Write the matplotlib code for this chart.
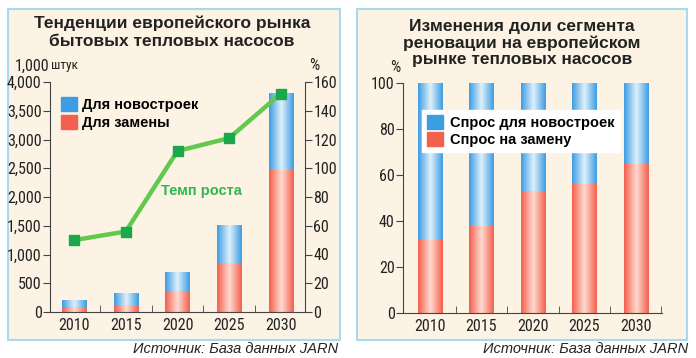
import matplotlib
matplotlib.use("Agg")
import matplotlib.pyplot as plt
import numpy as np
from matplotlib.colors import LinearSegmentedColormap
from matplotlib.patches import Patch
from matplotlib.ticker import FuncFormatter

years = ["2010", "2015", "2020", "2025", "2030"]

# left chart, 1,000 units
replace_units = [80, 125, 365, 850, 2470]
newbuild_units = [130, 200, 325, 670, 1340]
growth_rate = [50, 56, 112, 121, 152]

# right chart, %
replace_share = [32, 38, 53, 56, 65]
newbuild_share = [100 - v for v in replace_share]

BLUE = "#3d9de3"
BLUE_HI = "#dff1fb"
RED = "#f4604e"
RED_HI = "#fddcd0"
BG = "#fdf3e4"
FRAME = "#a6daef"
AXC = "#444444"

cm_blue = LinearSegmentedColormap.from_list("b", [BLUE, BLUE_HI, BLUE])
cm_red = LinearSegmentedColormap.from_list("r", [RED, RED_HI, RED])
grad = np.linspace(0, 1, 64).reshape(1, -1)

NARROW = ["Roboto Condensed", "Liberation Sans Narrow", "Asap Condensed",
          "Liberation Sans", "DejaVu Sans"]
SANS = ["Liberation Sans", "DejaVu Sans"]
plt.rcParams["font.family"] = SANS

W, H = 696, 358
fig = plt.figure(figsize=(W / 100, H / 100), dpi=100)
fig.patch.set_facecolor("white")


def px_axes(x0, y0, x1, y1):
    return fig.add_axes([x0 / W, 1 - y1 / H, (x1 - x0) / W, (y1 - y0) / H])


def shade(ax, bars, cmap):
    for b in bars:
        x, y = b.get_x(), b.get_y()
        w, h = b.get_width(), b.get_height()
        im = ax.imshow(grad, cmap=cmap, aspect="auto", extent=[x, x + w, y, y + h],
                       interpolation="bicubic", zorder=2)
        im.set_clip_path(b)


def style(ax):
    ax.set_facecolor("none")
    for s in ["top", "right"]:
        ax.spines[s].set_visible(False)
    for s in ["left", "bottom"]:
        ax.spines[s].set_color(AXC)
    ax.tick_params(axis="y", direction="out", length=5, color=AXC, pad=1,
                   labelsize=11.5, labelcolor="#222222")
    ax.tick_params(axis="x", which="major", length=0, pad=4, labelsize=11.5,
                   labelcolor="#222222")
    ax.tick_params(axis="x", which="minor", direction="in", length=5, color=AXC)
    for lab in ax.get_xticklabels() + ax.get_yticklabels():
        lab.set_family(NARROW)


# panel frames
for x0, x1 in [(8, 340), (357, 687)]:
    fig.patches.append(plt.Rectangle((x0 / W, 1 - 340 / H), (x1 - x0) / W, 331 / H,
                                     transform=fig.transFigure, facecolor=BG,
                                     edgecolor=FRAME, linewidth=1.5, zorder=-5))

x = np.arange(len(years))
bw = 0.47

# ---- left chart
ax = px_axes(50, 82, 305, 312)
b1 = ax.bar(x, replace_units, bw, color=RED, zorder=2)
b2 = ax.bar(x, newbuild_units, bw, bottom=replace_units, color=BLUE, zorder=2)
shade(ax, b1, cm_red)
shade(ax, b2, cm_blue)
ax.set_xlim(-0.465, 4.465)
ax.set_ylim(0, 4000)
ax.set_yticks(range(0, 4001, 500))
ax.yaxis.set_major_formatter(FuncFormatter(lambda v, p: f"{int(v):,}"))
ax.set_xticks(x)
ax.set_xticklabels(years)
ax.set_xticks([0.5, 1.5, 2.5, 3.5], minor=True)
style(ax)
ax.legend(handles=[Patch(color=BLUE, label="Для новостроек"),
                   Patch(color=RED, label="Для замены")],
          loc="upper left", bbox_to_anchor=(-0.01, 0.99), frameon=False,
          prop={"family": SANS, "weight": "bold", "size": 10.5},
          handlelength=1.1, handleheight=1.1, handletextpad=0.4, labelspacing=0.15)

ax2 = ax.twinx()
ax2.plot(x, growth_rate, color="#62c94f", linewidth=3.2, zorder=3)
ax2.plot(x, growth_rate, "s", color="#1aa84b", markersize=7, zorder=4)
ax2.set_ylim(0, 160)
ax2.set_yticks(range(0, 161, 20))
for s in ["top", "left", "bottom"]:
    ax2.spines[s].set_visible(False)
ax2.spines["right"].set_color(AXC)
ax2.tick_params(axis="y", direction="out", length=5, color=AXC, pad=1,
                labelsize=11.5, labelcolor="#222222")
for lab in ax2.get_yticklabels():
    lab.set_family(NARROW)
ax2.text(2.46, 84, "Темп роста", color="#2eb84c", fontsize=10.5, fontweight="bold",
         ha="center", va="center")

fig.text(172 / W, 1 - 32.5 / H, "Тенденции европейского рынка\nбытовых тепловых насосов",
         ha="center", va="center", fontsize=12.5, fontweight="bold", linespacing=1.25,
         color="#222222")
fig.text(15 / W, 1 - 66 / H, "1,000", ha="left", va="center", fontsize=11.5,
         family=NARROW, color="#222222")
fig.text(51 / W, 1 - 66 / H, "штук", ha="left", va="center", fontsize=9.5,
         family=NARROW, color="#222222")
fig.text(314 / W, 1 - 65 / H, "%", ha="center", va="center", fontsize=11.5,
         family=NARROW, color="#222222")
fig.text(338 / W, 1 - 349 / H, "Источник: База данных JARN", ha="right", va="center",
         fontsize=10.5, style="italic", color="#222222")

# ---- right chart
bx = px_axes(403, 83.3, 662, 313.3)
c1 = bx.bar(x, replace_share, bw, color=RED, zorder=2)
c2 = bx.bar(x, newbuild_share, bw, bottom=replace_share, color=BLUE, zorder=2)
shade(bx, c1, cm_red)
shade(bx, c2, cm_blue)
bx.set_xlim(-0.525, 4.51)
bx.set_ylim(0, 100)
bx.set_yticks(range(0, 101, 20))
bx.set_xticks(x)
bx.set_xticklabels(years)
bx.set_xticks([0.5, 1.5, 2.5, 3.5, 4.5], minor=True)
style(bx)
leg = bx.legend(handles=[Patch(color=BLUE, label="Спрос для новостроек"),
                         Patch(color=RED, label="Спрос на замену")],
                loc="upper left", bbox_to_anchor=(0.072, 0.884), frameon=True,
                fancybox=False, framealpha=1, facecolor="white", edgecolor="white",
                prop={"family": SANS, "weight": "semibold", "size": 10.5},
                handlelength=1.1, handleheight=1.1, handletextpad=0.5,
                labelspacing=0.15, borderpad=0.35, borderaxespad=0)
leg.set_zorder(5)

fig.text(522 / W, 1 - 43 / H,
         "Изменения доли сегмента\nреновации на европейском\nрынке тепловых насосов",
         ha="center", va="center", fontsize=12.5, fontweight="bold", linespacing=1.12,
         color="#222222")
fig.text(395 / W, 1 - 67 / H, "%", ha="center", va="center", fontsize=11.5,
         family=NARROW, color="#222222")
fig.text(688 / W, 1 - 349 / H, "Источник: База данных JARN", ha="right", va="center",
         fontsize=10.5, style="italic", color="#222222")

fig.savefig("out.png", dpi=100, facecolor="white")
